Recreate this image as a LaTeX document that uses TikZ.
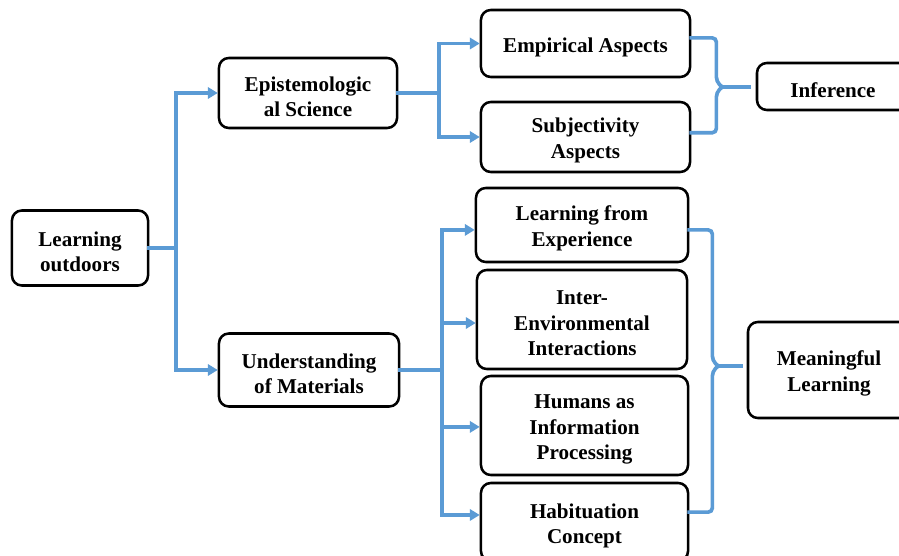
\documentclass[tikz,border=0pt]{standalone}
\usepackage{fontspec}
\setmainfont{Liberation Serif}
\usepackage{tikz}
\usetikzlibrary{calc, positioning, arrows.meta}
\definecolor{linkBlue}{RGB}{91,155,213}
\newcommand{\boxstrut}{\rule{0pt}{15.5pt}}
\tikzset{
    box/.style={rectangle, draw=black, line width=1.8pt, fill=white, rounded corners=7pt, align=center, inner sep=2pt, font=\fontsize{15}{18}\selectfont\bfseries},
    link/.style={draw=linkBlue, line width=2.6pt, line cap=rect},
    arrow/.style={link, -{Triangle[length=7pt, width=8pt]}}
}

\begin{document}
\begin{tikzpicture}[x=0.025cm, y=-0.025cm]
    \clip (0,0) rectangle (899,556);
    \fill[white] (0,0) rectangle (899,556);

    % Root and first level
    \node[box, minimum width=3.4cm, minimum height=1.875cm] (Out) at (80,248) {\boxstrut Learning\\outdoors};
    \node[box, minimum width=4.45cm, minimum height=1.75cm] (Epi) at (308,93) {\boxstrut Epistemologic\\al Science};
    \node[box, minimum width=4.5cm, minimum height=1.825cm] (Und) at (309,370) {\boxstrut Understanding\\of Materials};

    % Aspects of science
    \node[box, minimum width=5.225cm, minimum height=1.675cm] (Emp) at (585.5,43.5) {\boxstrut Empirical Aspects};
    \node[box, minimum width=5.225cm, minimum height=1.75cm] (Sub) at (585.5,137) {\boxstrut Subjectivity\\Aspects};
    \node[box, minimum width=3.8cm, minimum height=1.175cm] (Inf) at (833,86.5) {\boxstrut Inference};

    % Ways of understanding materials
    \node[box, minimum width=5.3cm, minimum height=1.85cm] (LfE) at (582,225) {\boxstrut Learning from\\Experience};
    \node[box, minimum width=5.25cm, minimum height=2.475cm] (Env) at (582,319.5) {\boxstrut Inter-\\Environmental\\Interactions};
    \node[box, minimum width=5.175cm, minimum height=2.475cm] (Hum) at (584.5,425.5) {\boxstrut Humans as\\Information\\Processing};
    \node[box, minimum width=5.175cm, minimum height=1.95cm] (Hab) at (584.5,522) {\boxstrut Habituation\\Concept};
    \node[box, minimum width=4.05cm, minimum height=2.4cm] (Mea) at (829,370) {\boxstrut Meaningful\\Learning};

    % Learning outdoors splits
    \coordinate (trunkA) at ($(Out.east)+(27,0)$);
    \draw[link] (Out.east) -- (trunkA);
    \draw[arrow] (trunkA) |- (Epi);
    \draw[arrow] (trunkA) |- (Und);

    % Epistemological science splits
    \coordinate (trunkB) at ($(Epi.east)+(41,0)$);
    \draw[link] (Epi.east) -- (trunkB);
    \draw[arrow] (trunkB) |- (Emp);
    \draw[arrow] (trunkB) |- (Sub);

    % Understanding of materials splits
    \coordinate (trunkC) at ($(Und.east)+(42,0)$);
    \draw[link] (Und.east) -- (trunkC);
    \draw[arrow] (trunkC) |- ([yshift=-3.5pt]LfE.west);
    \draw[arrow] (trunkC) |- ([yshift=-2.5pt]Env.west);
    \draw[arrow] (trunkC) |- ([yshift=-1pt]Hum.west);
    \draw[arrow] (trunkC) |- ([yshift=5pt]Hab.west);

    % Brace into inference
    \coordinate (tipA) at (722,87);
    \draw[link, rounded corners=3pt] ([yshift=4pt]Emp.east) -| ([xshift=-4pt, yshift=4pt]tipA) -- (tipA);
    \draw[link, rounded corners=3pt] ([yshift=3pt]Sub.east) -| ([xshift=-4pt, yshift=-4pt]tipA) -- (tipA);
    \draw[link, shorten >=5pt] (tipA) -- (Inf.west |- tipA);

    % Brace into meaningful learning
    \coordinate (tipB) at (718,366);
    \draw[link, rounded corners=3pt] ([yshift=-3.5pt]LfE.east) -| ([xshift=-4pt, yshift=4pt]tipB) -- (tipB);
    \draw[link, rounded corners=3pt] ([yshift=7pt]Hab.east) -| ([xshift=-4pt, yshift=-4pt]tipB) -- (tipB);
    \draw[link, shorten >=4pt] (tipB) -- (Mea.west |- tipB);
\end{tikzpicture}
\end{document}
